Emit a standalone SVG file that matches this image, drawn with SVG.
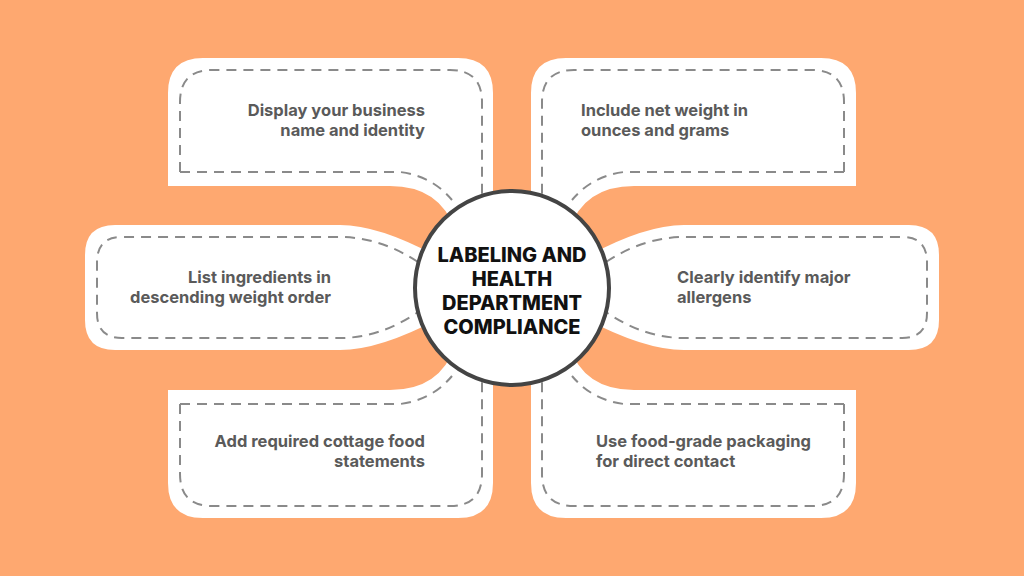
<svg xmlns="http://www.w3.org/2000/svg" width="1024" height="576" viewBox="0 0 1024 576">
<style>
.card{fill:#fff}
.dash{fill:none;stroke:#8a8a8a;stroke-width:2;stroke-dasharray:10 7}
.t{font-family:Inter,"Open Sans",sans-serif;font-weight:700;font-size:16.5px;fill:#5a5a5a}
.c{font-family:Inter,"Open Sans",sans-serif;font-weight:800;font-size:20px;fill:#111;text-anchor:middle}
</style>
<defs>
<g id="tl">
<path class="card" d="M168,186 L168,93 Q168,58 203,58 L458,58 Q493,58 493,93 L493,230 L455,230 Q440,186 390,186 Z"/>
<path class="dash" d="M180,172 L180,102 Q180,70 212,70 L450,70 Q482,70 482,102 L482,205"/>
<path class="dash" d="M180,172 L400,172 Q432,176 452,200"/>
</g>
<g id="ml">
<path class="card" d="M85,255 Q85,225 115,225 L340,225 Q380,225 440,258 L440,318 Q380,350 340,350 L115,350 Q85,350 85,320 Z"/>
<path class="dash" d="M418,262 Q380,237 340,237 L122,237 Q97,237 97,262 L97,313 Q97,338 122,338 L340,338 Q380,338 418,312"/>
</g>
</defs>
<rect width="1024" height="576" fill="#fea870"/>
<g id="node-tl"><use href="#tl"/><text class="t" text-anchor="end"><tspan x="425" y="116">Display your business</tspan><tspan x="425" y="136">name and identity</tspan></text></g>
<g id="node-tr"><use href="#tl" transform="matrix(-1 0 0 1 1024 0)"/><text class="t"><tspan x="581" y="116">Include net weight in</tspan><tspan x="581" y="136">ounces and grams</tspan></text></g>
<g id="node-ml"><use href="#ml"/><text class="t" text-anchor="end"><tspan x="331" y="283">List ingredients in</tspan><tspan x="331" y="303">descending weight order</tspan></text></g>
<g id="node-mr"><use href="#ml" transform="matrix(-1 0 0 1 1024 0)"/><text class="t"><tspan x="677" y="283">Clearly identify major</tspan><tspan x="677" y="303">allergens</tspan></text></g>
<g id="node-bl"><use href="#tl" transform="matrix(1 0 0 -1 0 576)"/><text class="t" text-anchor="end"><tspan x="425" y="447">Add required cottage food</tspan><tspan x="425" y="467">statements</tspan></text></g>
<g id="node-br"><use href="#tl" transform="matrix(-1 0 0 -1 1024 576)"/><text class="t"><tspan x="596" y="447">Use food-grade packaging</tspan><tspan x="596" y="467">for direct contact</tspan></text></g>
<g id="connectors"></g>
<g id="center">
<circle cx="512" cy="288" r="97" fill="#fff" stroke="#444" stroke-width="4"/>
<text class="c"><tspan x="512" y="262">LABELING AND</tspan><tspan x="512" y="286">HEALTH</tspan><tspan x="512" y="310">DEPARTMENT</tspan><tspan x="512" y="334">COMPLIANCE</tspan></text>
</g>
</svg>
